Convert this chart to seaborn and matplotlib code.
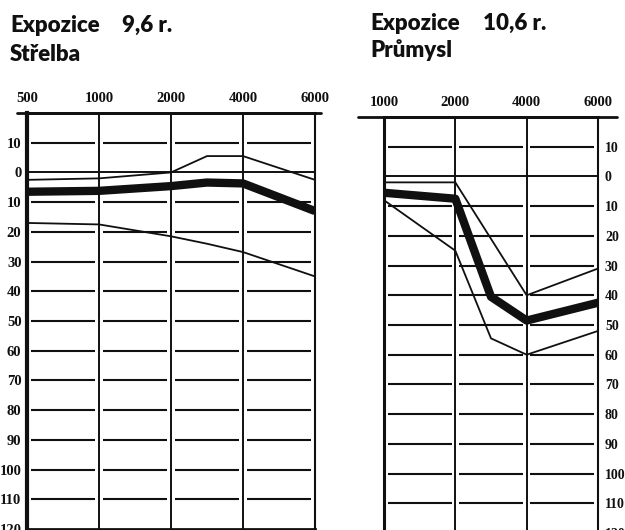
import matplotlib
matplotlib.use("Agg")
import matplotlib.pyplot as plt
import seaborn as sns
import pandas as pd

# ---------------- data ----------------
left_freqs = [500, 1000, 2000, 3000, 4000, 6000]
left_upper = [2.5, 2.0, 0.0, -5.5, -5.5, 2.5]
left_mean = [6.5, 6.2, 4.6, 3.4, 3.7, 13.0]
left_lower = [17.0, 17.5, 21.5, 24.0, 26.8, 35.0]

right_freqs = [1000, 2000, 3000, 4000, 6000]
right_upper = [2.0, 2.0, 21.0, 40.0, 31.0]
right_mean = [5.5, 7.5, 40.5, 48.5, 42.5]
right_lower = [8.0, 25.0, 54.5, 60.0, 52.0]

left_ticks = [500, 1000, 2000, 4000, 6000]
right_ticks = [1000, 2000, 4000, 6000]
db_ticks = list(range(-10, 121, 10))
db_labels = [str(abs(v)) for v in db_ticks]

left_title = ("Expozice", "9,6 r.", "Střelba")
right_title = ("Expozice", "10,6 r.", "Průmysl")

# audiogram frequency positions (octave steps, 3000 Hz halfway 2000-4000)
FREQ_POS = {500: 0.0, 1000: 1.0, 2000: 2.0, 3000: 2.5, 4000: 3.0, 6000: 4.0}

INK = "#101010"
W, H = 625, 530

sns.set_style("white")
fig = plt.figure(figsize=(W / 100, H / 100), dpi=100)
fig.patch.set_facecolor("white")


def px_rect(x0, y_top, x1, y_bot):
    return [x0 / W, 1 - y_bot / H, (x1 - x0) / W, (y_bot - y_top) / H]


def draw_panel(ax, freqs, upper, mean, lower, ticks, side, offset, lsize):
    rows = []
    for name, vals in (("upper", upper), ("mean", mean), ("lower", lower)):
        for f, v in zip(freqs, vals):
            rows.append({"series": name, "pos": FREQ_POS[f] - offset, "dB": v})
    df = pd.DataFrame(rows)

    verts = [FREQ_POS[f] - offset for f in ticks]
    xmin, xmax = verts[0], verts[-1]

    # grid: horizontal segments with small gaps at verticals
    gap = 0.05
    for y in db_ticks:
        if y >= 120:
            continue
        if y == 0:
            ax.hlines(0, xmin, xmax, color=INK, lw=1.4, zorder=1)
            continue
        for a, b in zip(verts[:-1], verts[1:]):
            ax.hlines(y, a + gap, b - gap, color=INK, lw=1.5, zorder=1)
    for v in verts[1:-1]:
        ax.axvline(v, color=INK, lw=1.4, zorder=1)

    for name, lw in (("upper", 1.3), ("lower", 1.3), ("mean", 6.0)):
        sub = df[df["series"] == name]
        sns.lineplot(data=sub, x="pos", y="dB", ax=ax, color=INK, lw=lw,
                     estimator=None, sort=False, legend=False, zorder=3,
                     solid_capstyle="butt", solid_joinstyle="round")

    ax.set_xlim(xmin, xmax)
    ax.set_ylim(120, -20)
    ax.set_xlabel("")
    ax.set_ylabel("")
    ax.xaxis.tick_top()
    ax.set_xticks(verts)
    ax.set_xticklabels([str(t) for t in ticks])
    ax.set_yticks(db_ticks)
    ax.set_yticklabels(db_labels)
    if side == "right":
        ax.yaxis.tick_right()
    ax.tick_params(length=0)
    for lab in ax.get_xticklabels():
        lab.set_fontfamily("Liberation Serif")
        lab.set_fontweight("bold")
        lab.set_fontsize(10.5)
        lab.set_color(INK)
    for lab in ax.get_yticklabels():
        lab.set_fontfamily("Liberation Serif")
        lab.set_fontweight("bold")
        lab.set_fontsize(lsize)
        lab.set_color(INK)
    for s in ax.spines.values():
        s.set_visible(True)
        s.set_color(INK)
    ax.grid(False)
    ax.set_facecolor("white")


# left panel
axL = fig.add_axes(px_rect(27, 113, 315, 529))
draw_panel(axL, left_freqs, left_upper, left_mean, left_lower,
           left_ticks, "left", 0.0, 10.5)
axL.spines["left"].set_linewidth(3.0)
axL.spines["right"].set_linewidth(1.5)
axL.spines["top"].set_linewidth(2.0)
axL.spines["bottom"].set_linewidth(2.0)
axL.tick_params(axis="x", pad=6.0)
axL.tick_params(axis="y", pad=4.0)
axL.plot([-0.035, 1.02], [1, 1], transform=axL.transAxes, clip_on=False,
         color=INK, lw=2.0)

# right panel
axR = fig.add_axes(px_rect(384, 117, 598, 533))
draw_panel(axR, right_freqs, right_upper, right_mean, right_lower,
           right_ticks, "right", 1.0, 10.0)
axR.spines["left"].set_linewidth(2.2)
axR.spines["right"].set_linewidth(1.5)
axR.spines["top"].set_linewidth(2.0)
axR.spines["bottom"].set_linewidth(2.0)
axR.tick_params(axis="x", pad=5.5)
axR.tick_params(axis="y", pad=5.0)
axR.plot([-0.12, 1.09], [1, 1], transform=axR.transAxes, clip_on=False,
         color=INK, lw=2.0)

# titles
tkw = dict(fontfamily="Lato", fontweight="heavy", fontsize=16, color=INK,
           va="baseline", ha="left")
fig.text(10 / W, 1 - 31.5 / H, left_title[0], **tkw)
fig.text(122 / W, 1 - 31.5 / H, left_title[1], **tkw)
fig.text(10 / W, 1 - 61 / H, left_title[2], **tkw)
fig.text(370 / W, 1 - 30 / H, right_title[0], **tkw)
fig.text(483 / W, 1 - 30 / H, right_title[1], **tkw)
fig.text(370 / W, 1 - 57 / H, right_title[2], **tkw)

fig.savefig("out.png", dpi=100, facecolor="white")
